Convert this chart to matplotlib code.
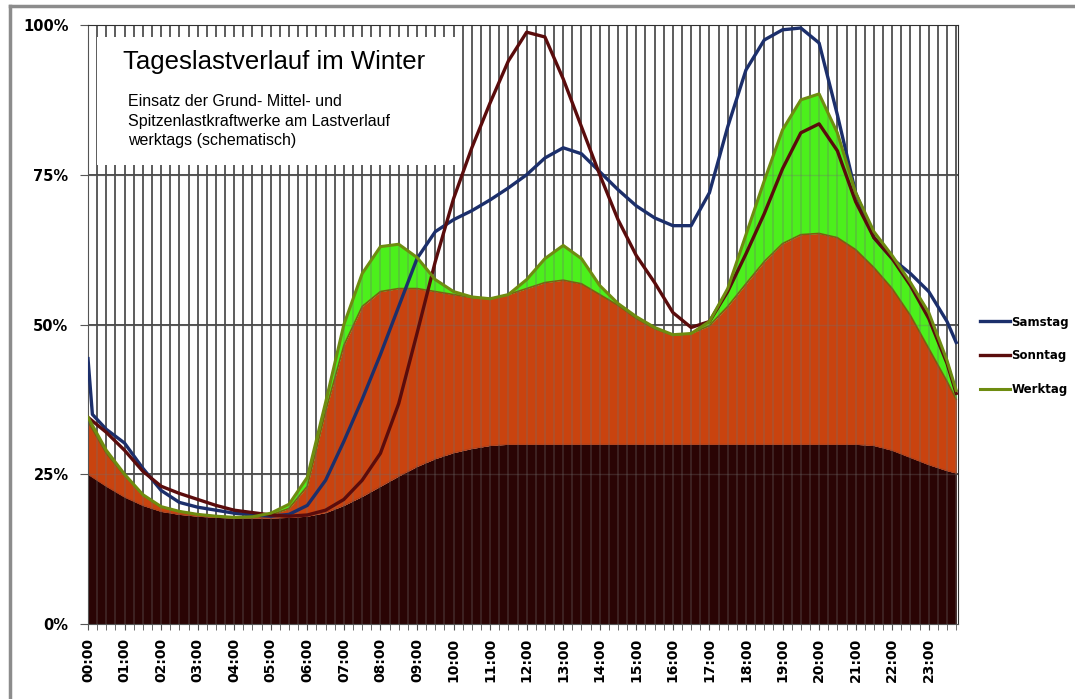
import numpy as np
import matplotlib.pyplot as plt
from matplotlib.lines import Line2D
from matplotlib.patches import Rectangle

# time axis in hours (half-hour steps, last point 23:45)
hours = list(np.arange(0, 24, 0.5)) + [23.75]

# Grundlast (base load), % of peak
grund = [25, 23, 21.2, 19.8, 18.8, 18.3, 18, 17.8, 17.7, 17.7, 17.7, 17.8,
         18, 18.6, 19.8, 21.3, 23, 24.7, 26.3, 27.6, 28.6, 29.3, 29.8, 30,
         30, 30, 30, 30, 30, 30, 30, 30, 30, 30, 30, 30,
         30, 30, 30, 30, 30, 30, 30, 29.8, 29, 27.8, 26.6, 25.6, 25.2]

# Grund + Mittellast
mittel = [33.8, 28.5, 24.8, 21.5, 19.5, 18.8, 18.3, 18, 17.8, 17.8, 18.2, 19.3,
          23, 35.5, 46.5, 53, 55.5, 56, 56, 55.5, 55, 54.5, 54.3, 55,
          56, 57, 57.4, 56.8, 55, 53.2, 51, 49.3, 48.2, 48.5, 49.8, 53,
          56.8, 60.5, 63.5, 65, 65.2, 64.5, 62.5, 59.5, 56, 51.5, 46, 40.5, 37.5]

# Werktag (total incl. Spitzenlast)
werktag = [34.5, 29, 25, 21.6, 19.6, 18.8, 18.3, 18, 17.8, 17.9, 18.5, 20,
           24.5, 37, 50, 58.5, 63, 63.4, 61.2, 57.5, 55.5, 54.6, 54.3, 55,
           57.5, 61, 63.2, 61, 56.5, 53.5, 51.3, 49.5, 48.3, 48.5, 50.5, 56,
           65, 74, 82.5, 87.5, 88.5, 82, 72, 65.5, 61.5, 57, 52, 44, 39]

sonntag = [34.5, 32, 29, 25.5, 23, 21.8, 20.8, 19.8, 19, 18.6, 18.2, 18,
           18.2, 19, 20.8, 24, 28.5, 36.8, 48.5, 60.5, 71, 79.5, 87, 94,
           98.8, 98, 91, 83, 75, 67.5, 61.5, 57, 52, 49.5, 50.5, 55.5,
           61.8, 68.5, 76, 82, 83.5, 79, 70.5, 64.5, 61, 56.5, 51, 43.5, 38.5]

# Samstag has a short spike right at midnight
samstag_hours = [0, 0.12] + hours[1:]
samstag = [44.3, 35, 32.5, 30.2, 26, 22.3, 20.3, 19.5, 19, 18.5, 18.2, 18, 18.3,
           19.8, 24, 30.5, 37.5, 45, 53, 61, 65.5, 67.5, 69, 70.8, 72.8,
           75, 77.8, 79.5, 78.5, 75.5, 72.5, 69.8, 67.8, 66.5, 66.5, 72, 83,
           92.5, 97.5, 99.2, 99.5, 97, 85, 72, 64.5, 61, 58.5, 55.5, 50.5, 47]

xlabels = ['%02d:00' % h for h in range(24)]
ylabels = ['0%', '25%', '50%', '75%', '100%']

fig = plt.figure(figsize=(10.75, 6.99), dpi=100)
ax = fig.add_axes([88 / 1075, 1 - 624 / 699, 870 / 1075, 599 / 699])

grid_c = '#4a4a4a'
qh = np.arange(0.25, 23.8, 0.25)
# grid below fills
ax.vlines(qh, 0, 100, color=grid_c, lw=1.3, zorder=0)
ax.hlines([25, 50, 75], 0, 23.8, color='#303030', lw=1.2, zorder=0)

ax.fill_between(hours, 0, grund, color='#2a0404', lw=0, zorder=1)
ax.fill_between(hours, grund, mittel, color='#c9430f', lw=0, zorder=1)
ax.fill_between(hours, mittel, werktag, color='#4cf01c', lw=0, zorder=1)
ax.plot(hours, grund, color='#b0401a', lw=0.8, zorder=1.5)
ax.plot(hours, mittel, color='#7a6010', lw=1.2, zorder=1.5, solid_joinstyle='round')

# grid showing faintly through the fills
ax.vlines(qh, 0, 100, color='#707070', lw=1.3, alpha=0.3, zorder=2)
ax.hlines([25, 50, 75], 0, 23.8, color='#707070', lw=1.0, alpha=0.3, zorder=2)

# title box
ax.add_patch(Rectangle((0.010, 0.767), 0.420, 0.213, transform=ax.transAxes,
                       facecolor='white', edgecolor='none', zorder=3))
ax.text(0.040, 0.938, 'Tageslastverlauf im Winter', transform=ax.transAxes,
        fontsize=18.5, family='Liberation Sans', va='center', ha='left', zorder=4)
ax.text(0.046, 0.885,
        'Einsatz der Grund- Mittel- und\nSpitzenlastkraftwerke am Lastverlauf\nwerktags (schematisch)',
        transform=ax.transAxes, fontsize=11.5, family='Liberation Sans',
        va='top', ha='left', linespacing=1.4, zorder=4)

l1, = ax.plot(samstag_hours, samstag, color='#1c2f6b', lw=2.4, zorder=5,
              solid_joinstyle='round', label='Samstag')
l2, = ax.plot(hours, sonntag, color='#5a0c0c', lw=2.4, zorder=5,
              solid_joinstyle='round', label='Sonntag')
l3, = ax.plot(hours, werktag, color='#6e8c10', lw=2.2, zorder=5,
              solid_joinstyle='round', label='Werktag')

ax.set_xlim(0, 23.8)
ax.set_ylim(0, 100)
ax.set_yticks([0, 25, 50, 75, 100])
ax.set_yticklabels(ylabels, fontsize=10.5, fontweight='bold')
ax.set_xticks(range(24))
ax.set_xticklabels(xlabels, rotation=90, fontsize=10, fontweight='bold')
ax.set_xticks(qh, minor=True)
ax.tick_params(axis='x', which='both', direction='out', length=4, color='#555555', pad=6)
ax.tick_params(axis='y', length=6, color='#555555', pad=8)
for s in ['top', 'right']:
    ax.spines[s].set_color('#303030')
ax.spines['left'].set_color('#555555')
ax.spines['bottom'].set_color('#555555')

leg = ax.legend(handles=[l1, l2, l3], loc='upper left', bbox_to_anchor=(1.025, 0.515),
                frameon=False, handlelength=2.6, handletextpad=0.1, labelspacing=1.75,
                borderpad=0, borderaxespad=0,
                prop={'size': 8.5, 'weight': 'bold'})

# outer chart border (top and left)
fig.add_artist(Line2D([10 / 1075, 1], [1 - 6 / 699, 1 - 6 / 699], color='#8c8c8c', lw=2.5))
fig.add_artist(Line2D([10 / 1075, 10 / 1075], [0, 1 - 6 / 699], color='#8c8c8c', lw=2.5))

fig.savefig('out.png', dpi=100)
